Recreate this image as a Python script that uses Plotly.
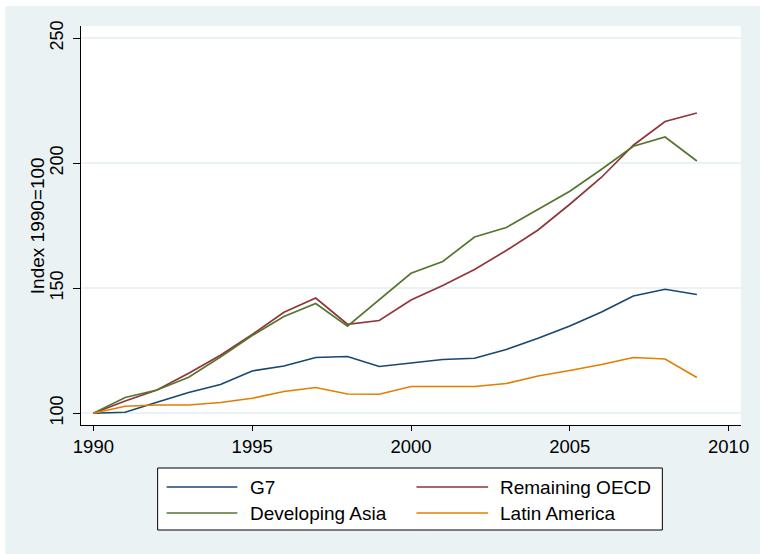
import plotly.graph_objects as go

# Index values, 1990 = 100
years = list(range(1990, 2010))
g7 = [100, 100.4, 104.4, 108.3, 111.5, 116.9, 118.9, 122.3, 122.7, 118.7,
      120.1, 121.5, 122.0, 125.5, 130.0, 134.9, 140.5, 146.9, 149.6, 147.5]
remaining_oecd = [100, 104.9, 109.3, 116.0, 123.2, 131.5, 140.4, 146.1, 135.6, 137.1,
                  145.3, 151.1, 157.5, 165.1, 173.3, 183.6, 194.4, 207.2, 216.7, 220.1]
developing_asia = [100, 106.3, 109.3, 114.4, 122.5, 131.1, 138.7, 143.9, 134.8, 145.3,
                   156.0, 160.7, 170.5, 174.3, 181.7, 188.8, 197.6, 206.8, 210.5, 200.9]
latin_america = [100, 102.8, 103.3, 103.3, 104.3, 106.0, 108.7, 110.3, 107.7, 107.6,
                 110.7, 110.7, 110.7, 111.9, 114.9, 117.1, 119.5, 122.3, 121.7, 114.3]

series_names = ["G7", "Remaining OECD", "Developing Asia", "Latin America"]
series_values = [g7, remaining_oecd, developing_asia, latin_america]
series_colors = ["#1a476f", "#90353b", "#55752f", "#e37e00"]

x_ticks = [1990, 1995, 2000, 2005, 2010]
y_ticks = [100, 150, 200, 250]
y_title = "Index 1990=100"

FONT = "Liberation Sans, Arial, Helvetica, sans-serif"
BG = "#eaf2f3"

W, H = 761, 554
ML, MR, MT, MB = 81, 17, 26, 129
PW, PH = W - ML - MR, H - MT - MB


def px_x(px):
    return (px - ML) / PW


def px_y(py):
    return (H - MB - py) / PH


fig = go.Figure()
for name, vals, col in zip(series_names, series_values, series_colors):
    fig.add_trace(go.Scatter(x=years, y=vals, name=name, mode="lines",
                             line=dict(color=col, width=1.7), showlegend=False))

shapes = [
    # outer light frame
    dict(type="rect", xref="paper", yref="paper", layer="below",
         x0=px_x(5), x1=px_x(W + 2), y0=px_y(H + 2), y1=px_y(6),
         fillcolor=BG, line=dict(width=0)),
    # white plot region
    dict(type="rect", xref="paper", yref="paper", layer="below",
         x0=0, x1=1, y0=0, y1=px_y(26),
         fillcolor="white", line=dict(width=0)),
    # legend box
    dict(type="rect", xref="paper", yref="paper",
         x0=px_x(158), x1=px_x(665), y0=px_y(530), y1=px_y(468),
         fillcolor="white", line=dict(color="black", width=1)),
]

# y-axis title, rotated
annotations = [dict(xref="paper", yref="paper", x=px_x(37), y=px_y(226),
                    text=y_title, showarrow=False, textangle=-90,
                    xanchor="center", yanchor="middle",
                    font=dict(family=FONT, size=19, color="black"))]

# legend entries laid out in a 2 x 2 grid
col_line_x = [(167, 238), (418, 490)]
col_text_x = [250, 501]
row_y = [487, 513]
for i, (name, col) in enumerate(zip(series_names, series_colors)):
    r, c = divmod(i, 2)
    lx0, lx1 = col_line_x[c]
    shapes.append(dict(type="line", xref="paper", yref="paper",
                       x0=px_x(lx0), x1=px_x(lx1), y0=px_y(row_y[r]), y1=px_y(row_y[r]),
                       line=dict(color=col, width=1.7)))
    annotations.append(dict(xref="paper", yref="paper", x=px_x(col_text_x[c] - 1), y=px_y(row_y[r]),
                            text=name, showarrow=False, xanchor="left", yanchor="middle",
                            font=dict(family=FONT, size=19, color="black")))

fig.update_layout(
    width=W, height=H,
    margin=dict(l=ML, r=MR, t=MT, b=MB, pad=0),
    paper_bgcolor="white",
    plot_bgcolor="rgba(0,0,0,0)",
    font=dict(family=FONT, size=18, color="black"),
    shapes=shapes,
    annotations=annotations,
    showlegend=False,
    xaxis=dict(
        range=[1989.61, 2010.39], tickvals=x_ticks, ticktext=[str(v) for v in x_ticks],
        showgrid=False, zeroline=False, showline=True, linecolor="black", linewidth=1,
        ticks="outside", ticklen=5, tickcolor="black",
        tickfont=dict(family=FONT, size=18.5),
    ),
    yaxis=dict(
        range=[95.3, 254.9], tickvals=y_ticks, ticktext=[str(v) for v in y_ticks],
        showgrid=True, gridcolor=BG, gridwidth=1.5, zeroline=False,
        showline=True, linecolor="black", linewidth=1,
        ticks="outside", ticklen=7, tickcolor="black", tickangle=-90,
        ticklabelstandoff=3,
        tickfont=dict(family=FONT, size=18),
    ),
)

fig.write_html("out.html")
